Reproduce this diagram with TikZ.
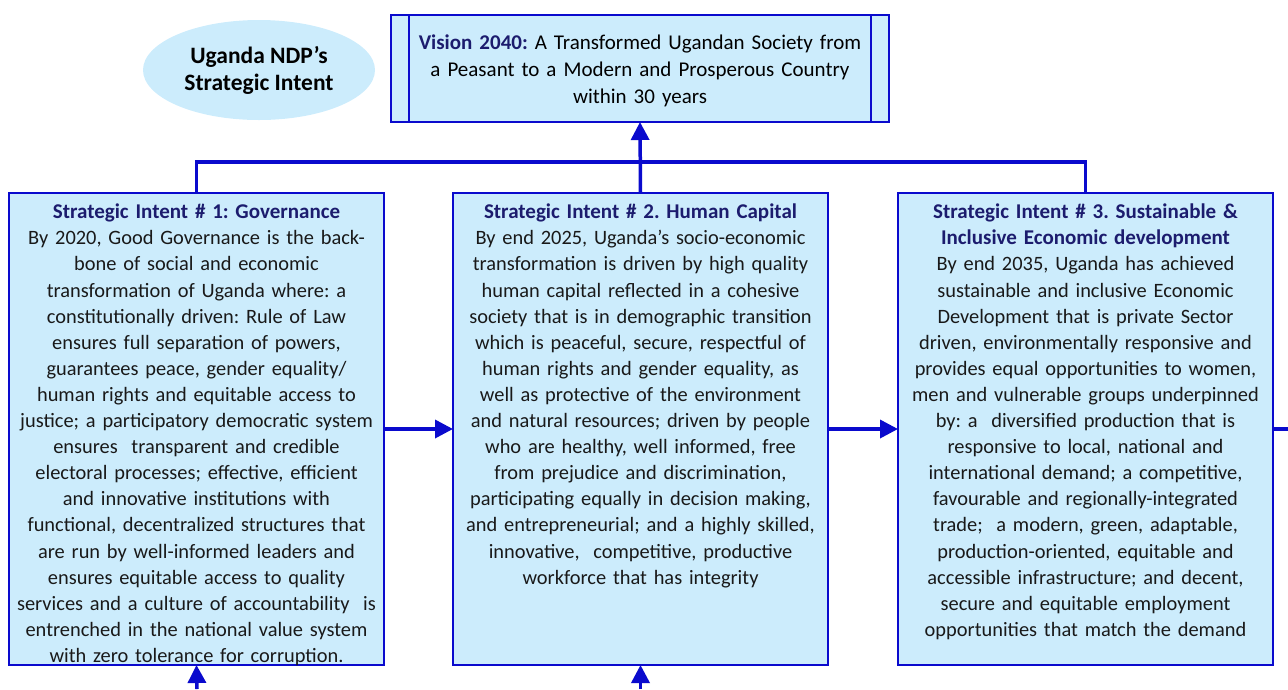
\documentclass[tikz,border=0pt]{standalone}
\usepackage{fontspec}
\setmainfont{Carlito}
\usetikzlibrary{arrows.meta,shapes.geometric,positioning}
\definecolor{ndpline}{RGB}{10,10,205}
\definecolor{ndpfill}{RGB}{204,236,252}
\definecolor{ndpnavy}{RGB}{28,28,110}
\newcommand{\sihead}[1]{{\fontsize{21}{26.1}\selectfont\bfseries\color{ndpnavy}#1}}
\frenchspacing

\begin{document}
\begin{tikzpicture}
  [x=1pt,y=-1pt,every node/.style={inner sep=0pt,outer sep=0pt},
   intentbox/.style={draw=ndpline,line width=1.4pt,fill=ndpfill,minimum width=375pt,minimum height=472pt},
   intenttext/.style={text width=400pt,align=center,text=black!90,font=\fontsize{20.4}{26.1}\selectfont},
   link/.style={draw=ndpline,line width=3.5pt},
   arr/.style={link,-{Triangle[length=18pt,width=18pt]}}]
  \useasboundingbox (0,0) rectangle (1288,689);

  \node (title) [ellipse,fill=ndpfill,minimum width=232pt,minimum height=100pt,align=center,
    font=\fontsize{23.5}{27}\selectfont\bfseries] at (259,70) {Uganda NDP’s\\Strategic Intent};
  \node (vision) [draw=ndpline,line width=1.4pt,fill=ndpfill,minimum width=498pt,minimum height=107pt,
    text width=470pt,align=center,font=\fontsize{21}{27}\selectfont] at (640,68.5)
    {};
  \node (visiont) [text width=470pt,align=center,font=\fontsize{21}{27}\selectfont] at (640,70.5)
    {\textbf{\color{ndpnavy}Vision 2040:} A Transformed Ugandan Society from\\a Peasant to a Modern and Prosperous Country\\within 30 years};
  \draw[draw=ndpline,line width=1.4pt] ([xshift=18pt]vision.north west) -- ([xshift=18pt]vision.south west)
    ([xshift=-18pt]vision.north east) -- ([xshift=-18pt]vision.south east);

  \node (si1) [intentbox] at (196.5,429) {};
  \node (si2) [intentbox] at (640.5,429) {};
  \node (si3) [intentbox] at (1085.5,429) {};

  \node (si1t) [intenttext,below=11pt of si1.north] {\sihead{Strategic Intent \# 1: Governance}\\
    By 2020, Good Governance is the back-\\bone of social and economic\\transformation of Uganda where: a\\
    constitutionally driven: Rule of Law\\ensures full separation of powers,\\guarantees peace, gender equality/\\
    human rights and equitable access to\\justice; a participatory democratic system\\ensures \ transparent and credible\\
    electoral processes; effective, efficient\\and innovative institutions with\\functional, decentralized structures that\\
    are run by well-informed leaders and\\ensures equitable access to quality\\services and a culture of accountability \ is\\
    entrenched in the national value system\\with zero tolerance for corruption.};
  \node (si2t) [intenttext,below=11pt of si2.north] {\sihead{Strategic Intent \# 2. Human Capital}\\
    By end 2025, Uganda’s socio-economic\\transformation is driven by high quality\\human capital reflected in a cohesive\\
    society that is in demographic transition\\which is peaceful, secure, respectful of\\human rights and gender equality, as\\
    well as protective of the environment\\and natural resources; driven by people\\who are healthy, well informed, free\\
    from prejudice and discrimination,\\participating equally in decision making,\\and entrepreneurial; and a highly skilled,\\
    innovative, \ competitive, productive\\workforce that has integrity};
  \node (si3t) [intenttext,below=11pt of si3.north] {\sihead{Strategic Intent \# 3. Sustainable \&}\\
    \sihead{Inclusive Economic development}\\
    By end 2035, Uganda has achieved\\sustainable and inclusive Economic\\Development that is private Sector\\
    driven, environmentally responsive and\\provides equal opportunities to women,\\men and vulnerable groups underpinned\\
    by: a \ diversified production that is\\responsive to local, national and\\international demand; a competitive,\\
    favourable and regionally-integrated\\trade; \ a modern, green, adaptable,\\production-oriented, equitable and\\
    accessible infrastructure; and decent,\\secure and equitable employment\\opportunities that match the demand};

  \coordinate (out) at (1288,429);
  \coordinate (in1) at (197,689);
  \coordinate (in2) at (640.5,689);

  % bus up to the vision
  \draw[link] (si1.north) -- ++(0,-31) -| (si3.north);
  \draw[arr] (si2.north) -- (vision.south);
  \foreach \from/\to in {si1/si2,si2/si3}
    \draw[arr] (\from) -- (\to);
  \draw[link] (si3.east) -- (out);
  \foreach \from/\to in {in1/si1,in2/si2}
    \draw[arr] (\from) -- (\to.south);
\end{tikzpicture}
\end{document}
